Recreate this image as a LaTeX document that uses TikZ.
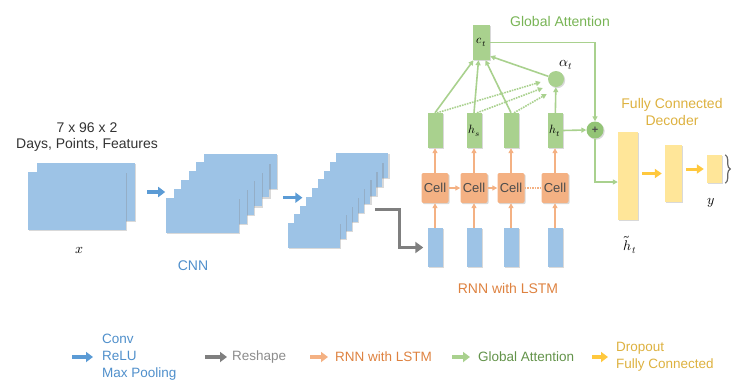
\documentclass[tikz,border=0pt]{standalone}
\usepackage{amsmath}
\usepackage{fontspec}
\usepackage{unicode-math}
\setmainfont{Liberation Sans}
\setmathfont{Latin Modern Math}
\usetikzlibrary{arrows.meta,shadows,decorations.pathreplacing}

\definecolor{boxblue}{HTML}{9DC3E6}
\definecolor{arrblue}{HTML}{5B9BD5}
\definecolor{txtblue}{HTML}{4F8FCB}
\definecolor{arrgray}{HTML}{7F7F7F}
\definecolor{txtgray}{HTML}{8C8C8C}
\definecolor{cellorange}{HTML}{F4B183}
\definecolor{txtorange}{HTML}{DE8240}
\definecolor{attgreen}{HTML}{A9D18E}
\definecolor{plusgreen}{HTML}{93C476}
\definecolor{txtgreen}{HTML}{78B455}
\definecolor{leggreen}{HTML}{63934A}
\definecolor{fcyellow}{HTML}{FFE699}
\definecolor{arryellow}{HTML}{FFC83D}
\definecolor{txtgold}{HTML}{DDB13F}

\tikzset{
  soft/.style={drop shadow={shadow xshift=1.2pt,shadow yshift=-1.2pt,opacity=.3}},
  bluebox/.style={fill=boxblue,inner sep=0pt,soft},
  cellbox/.style={fill=cellorange,rounded corners=2pt,inner sep=0pt,minimum width=27pt,minimum height=30pt,soft,text=black!70,font=\fontsize{13}{15}\selectfont},
  greenbox/.style={fill=attgreen,inner sep=0pt,soft,font=\fontsize{12}{14}\selectfont},
  yelbox/.style={fill=fcyellow,inner sep=0pt,soft},
  conv/.style={arrblue,line width=3.5pt,-{Triangle[length=7pt,width=10pt]}},
  reshape/.style={arrgray,line width=3.5pt,-{Triangle[length=8pt,width=11pt]}},
  rnn/.style={cellorange,line width=1.5pt,-{Triangle[length=5pt,width=5pt]}},
  att/.style={attgreen,line width=1.6pt,-{Triangle[length=5pt,width=5pt]}},
  attdot/.style={attgreen,line width=1.6pt,densely dotted,-{Triangle[length=5pt,width=5pt]}},
  fc/.style={arryellow,line width=3pt,-{Triangle[length=7pt,width=9pt]},shorten <=4pt,shorten >=3pt},
  legarrow/.style={line width=3.5pt,-{Triangle[length=7pt,width=10pt]}},
  legtext/.style={anchor=west,inner sep=0pt,align=left,font=\fontsize{13.5}{17}\selectfont},
  brace/.style={decorate,decoration={brace,amplitude=5pt},black!60,line width=1.2pt}
}

\begin{document}
\begin{tikzpicture}[x=1pt,y=-1pt,font=\fontsize{14}{16}\selectfont]
\useasboundingbox (0,0) rectangle (741,380);

% input
\node[bluebox,minimum width=98pt,minimum height=58pt] (x1) at (86,192) {};
\node[bluebox,minimum width=98pt,minimum height=58pt] (x0) at (77,201) {};
\node[align=center,text=black!80] (shape) at (87,137) {7 x 96 x 2\\Days, Points, Features};
\node (xlab) at (80,250) {$x$};

% cnn
\foreach \i in {5,...,0}
	\node[bluebox,minimum width=73pt,minimum height=35pt] (c\i) at (202.5+7.6*\i,215.5-8.9*\i) {};
\node[txtblue] (cnnlab) at (193,266) {CNN};
\draw[conv] ([xshift=12pt]x1.east) -- ++(18,0);

% after pooling
\foreach \i in {8,...,0}
	\node[bluebox,minimum width=52pt,minimum height=25pt] (s\i) at (314+6.06*\i,235.5-8.75*\i) {};
\draw[conv] ([xshift=29pt]c2.east) -- ++(19,0);

% rnn
\foreach \x/\lab [count=\i] in {435/{},474/{$h_s$},511/{},555/{$h_t$}}
{	\node[bluebox,minimum width=15pt,minimum height=39pt] (in\i) at (\x,247.5) {};
	\node[cellbox] (cell\i) at (\x,188) {Cell};
	\node[greenbox,minimum width=15pt,minimum height=35pt] (h\i) at (\x,130.5) {\lab};
	\draw[rnn] (in\i) -- (cell\i);
	\draw[rnn] (cell\i) -- (h\i);
}
\draw[rnn] (cell1) -- (cell2);
\draw[rnn] (cell2) -- (cell3);
\draw[cellorange,line width=1.5pt,densely dotted] (cell3) -- (cell4);
\draw[reshape,shorten >=4pt] ([xshift=17pt]s3.east) -- ++(24,0) |- (in1.west);
\node[txtorange] (rnnlab) at (508,288) {RNN with LSTM};

% attention
\node[greenbox,minimum width=17pt,minimum height=35pt] (ct) at (481.5,42.5) {$c_t$};
\node[circle,fill=attgreen,minimum size=16pt,inner sep=0pt,soft] (al) at (556,79) {};
\node (allab) at (566,65) {$\alpha_t$};
\node[circle,fill=plusgreen,minimum size=17pt,inner sep=0pt,soft,font=\fontsize{11}{12}\selectfont\bfseries,text=black!70] (pl) at (595,130) {+};
\node[txtgreen] (attlab) at (560,21) {Global Attention};
\foreach \i/\s in {1/-8,2/-3,3/4}
	\draw[att] (h\i.north) -- ([xshift=\s pt]ct.south);
\draw[att] (al) -- ([yshift=4pt]ct.south east);
\draw[att] (h4) -- (al);
\draw[attdot] ([xshift=2pt]h1.north) -- ([xshift=-7pt,yshift=-3pt]al.west);
\draw[attdot] ([xshift=3pt]h2.north) -- ([xshift=-5pt,yshift=-9pt]al.west);
\draw[attdot] ([xshift=3pt]h3.north) -- ([xshift=-1pt,yshift=-15pt]al.west);
\draw[att] (ct.east) -| (pl.north);
\draw[att] (h4.east) -- (pl.west);

% decoder
\node[yelbox,minimum width=20pt,minimum height=88pt] (y1) at (628,176) {};
\node[yelbox,minimum width=17pt,minimum height=57pt] (y2) at (673.5,173.5) {};
\node[yelbox,minimum width=15pt,minimum height=28pt] (y3) at (714.5,169) {};
\draw[att] (pl.south) |- ([yshift=-6pt]y1.west);
\draw[fc] (y1.east |- y2) -- (y2.west);
\draw[fc] (y2.east |- y3) -- (y3.west);
\draw[brace] ([xshift=3pt]y3.north east) -- ([xshift=3pt]y3.south east);
\node[txtgold,align=center,font=\fontsize{14}{17}\selectfont] (fclab) at (672,112) {Fully Connected\\Decoder};
\node (htlab) at (630,245) {$\tilde{h}_t$};
\node (ylab) at (711,203) {$y$};

% legend
\node[legtext,txtblue] (lg1) at (102,357) {Conv\\ReLU\\Max Pooling};
\node[legtext,txtgray] (lg2) at (232,357) {Reshape};
\node[legtext,txtorange] (lg3) at (335,357) {RNN with LSTM};
\node[legtext,leggreen] (lg4) at (478,357) {Global Attention};
\node[legtext,txtgold] (lg5) at (616,357) {Dropout\\Fully Connected};
\draw[legarrow,arrblue] ([xshift=-30pt]lg1.west) -- ([xshift=-9pt]lg1.west);
\draw[legarrow,arrgray] ([xshift=-27pt]lg2.west) -- ([xshift=-5pt]lg2.west);
\draw[legarrow,cellorange] ([xshift=-25pt]lg3.west) -- ([xshift=-7pt]lg3.west);
\draw[legarrow,attgreen] ([xshift=-26pt]lg4.west) -- ([xshift=-8pt]lg4.west);
\draw[legarrow,arryellow] ([xshift=-24pt]lg5.west) -- ([xshift=-8pt]lg5.west);

\end{tikzpicture}
\end{document}
